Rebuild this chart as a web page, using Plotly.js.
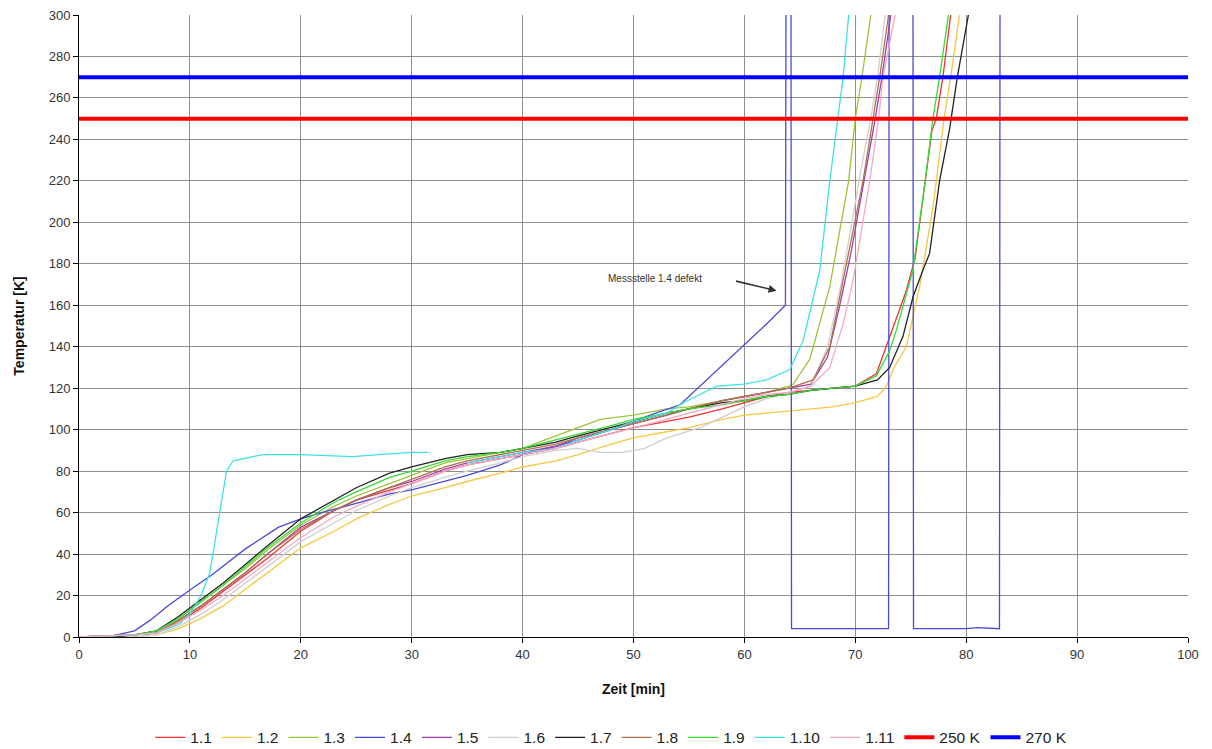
<!DOCTYPE html>
<html>
<head>
<meta charset="utf-8">
<script src="https://cdn.plot.ly/plotly-3.0.1.min.js"></script>
<style>
  html, body { margin: 0; padding: 0; background: #ffffff; }
  #chart { width: 1212px; height: 749px; }
</style>
</head>
<body>
<div id="chart"></div>
<script>
// ---- Data (time in min, temperature in K) ----
const t_1_1 = [0, 5, 7, 9, 11, 13, 15, 17, 20, 23, 25, 28, 30, 33, 35, 38, 40, 43, 45, 48, 50, 53, 55, 58, 60, 62, 64, 66, 68, 70, 71.9, 72.8, 73.7, 74.6, 75.4, 76.1, 76.9, 77.3, 77.9, 78.6];
const T_1_1 = [0, 1, 2, 7, 14, 22, 30, 38, 51, 61, 66, 71, 74, 80, 83, 86, 88, 91, 94, 98, 101, 104, 106, 110, 113, 116, 118, 119, 120, 121, 127, 140, 153, 167, 183, 212, 244, 250, 270, 300];

const t_1_2 = [0, 5, 7, 9, 11, 13, 15, 17, 20, 23, 25, 28, 30, 33, 35, 38, 40, 43, 45, 48, 50, 53, 55, 58, 60, 62, 64, 66, 68, 70, 72, 72.8, 73.5, 74.6, 75.8, 77.0, 77.9, 78.0, 78.6, 79.4];
const T_1_2 = [0, 0, 1, 4, 9, 15, 23, 31, 43, 51, 57, 64, 68, 72, 75, 79, 82, 85, 88, 93, 96, 99, 101, 105, 107, 108, 109, 110, 111, 113, 116, 121, 130, 140, 169, 207, 244, 250, 270, 300];

const t_1_3 = [0, 5, 7, 9, 11, 13, 15, 17, 20, 23, 25, 28, 30, 33, 35, 38, 40, 43, 45, 47, 50, 53, 55, 58, 60, 62, 64, 64.4, 65.9, 67.7, 68.6, 69.4, 70.0, 70.6, 71.4];
const T_1_3 = [0, 1, 3, 9, 17, 25, 33, 42, 54, 63, 68, 74, 78, 84, 86, 89, 91, 97, 101, 105, 107, 110, 111, 114, 116, 118, 121, 122, 134, 169, 196, 220, 250, 270, 300];

const t_1_4 = [0, 2.5, 3, 5, 6.4, 8, 10, 12, 15, 18, 20, 21.7, 25, 28, 30, 33, 35, 38, 40, 43, 45, 48, 50, 52, 54.2, 56, 58, 60, 62, 63.7, 63.75, 64.2, 64.25, 73.0, 73.05, 75.2, 75.25, 80, 81, 83.0, 83.05];
const T_1_4 = [0, 0, 0.5, 3, 8, 15, 22.7, 30, 42.5, 53, 57, 59.7, 64.5, 69, 71, 75, 78, 83, 88, 92, 95, 100, 104, 108, 112, 121, 131, 141, 151, 160, 310, 310, 4, 4, 310, 310, 4, 4, 4.5, 4, 310];

const t_1_5 = [0, 5, 7, 9, 11, 13, 15, 17, 20, 23, 25, 28, 30, 33, 35, 38, 40, 43, 45, 48, 50, 53, 55, 58, 60, 62, 64, 66, 67.5, 68.6, 69.6, 70.8, 71.8, 72.4, 73.2];
const T_1_5 = [0, 1, 2, 8, 15, 23, 31, 40, 53, 61, 66, 72, 75, 81, 84, 87, 89, 92, 96, 100, 103, 107, 110, 114, 116, 118, 120, 122, 135, 160, 185, 220, 250, 270, 300];

const t_1_6 = [0, 5, 7, 9, 11, 13, 15, 17, 20, 23, 25, 28, 30, 33, 35, 38, 40, 43, 45, 47, 49, 51, 53, 56, 58, 60, 62, 64, 66, 67.5, 68.7, 69.7, 70.5, 71.4, 72.0, 72.7];
const T_1_6 = [0, 0, 1, 5, 11, 18, 26, 34, 46, 55, 61, 68, 72, 77, 80, 84, 87, 90, 91, 89, 89, 91, 96, 101, 106, 111, 115, 118, 121, 140, 170, 200, 225, 250, 270, 300];

const t_1_7 = [0, 3, 5, 7, 9, 11, 13, 15, 17, 20, 23, 25, 28, 30, 33, 35, 38, 40, 43, 45, 48, 50, 53, 55, 58, 60, 62, 64, 66, 68, 70, 72, 73.1, 74.3, 75.2, 76.1, 76.7, 77.6, 78.5, 79.2, 80.2];
const T_1_7 = [0, 0, 1, 3, 10, 18, 26, 35, 44, 57, 66, 72, 79, 82, 86, 88, 89, 91, 94, 97, 101, 104, 108, 110, 113, 114, 116, 117, 119, 120, 121, 124, 130, 145, 164, 177, 185, 220, 245, 270, 300];

const t_1_8 = [0, 5, 7, 9, 11, 13, 15, 17, 20, 23, 25, 28, 30, 33, 35, 38, 40, 43, 45, 48, 50, 53, 55, 58, 60, 62, 64, 66.2, 67.7, 68.9, 69.8, 70.7, 71.6, 72.2, 73.0];
const T_1_8 = [0, 1, 2, 8, 15, 23, 31, 40, 52, 61, 66, 72, 76, 82, 85, 88, 90, 93, 96, 100, 103, 107, 110, 114, 116, 118, 120, 124, 140, 172, 196, 220, 250, 270, 300];

const t_1_9 = [0, 5, 7, 9, 11, 13, 15, 17, 20, 23, 25, 28, 30, 33, 35, 38, 40, 43, 45, 48, 50, 53, 55, 58, 60, 62, 64, 66, 68, 70, 71.9, 73.1, 73.7, 75.2, 76.3, 77.0, 77.6, 78.4];
const T_1_9 = [0, 1, 3, 9, 17, 25, 34, 43, 55, 65, 70, 77, 80, 85, 87, 89, 91, 95, 98, 102, 105, 108, 110, 112, 114, 116, 117, 119, 120, 121, 126, 138, 148, 177, 220, 250, 270, 300];

const t_1_10 = [0, 5, 7, 9, 10, 11, 11.8, 12.7, 13.3, 13.9, 16.6, 20, 24.7, 27, 30, 31.5, null, 35, 38, 40, 43, 45, 48, 50, 53, 54.5, 57.5, 60, 62, 64.1, 65.3, 65.9, 66.8, 67.7, 68.4, 68.9, 69.4];
const T_1_10 = [0, 1, 2, 6, 11, 20, 31, 60, 80, 85, 88, 88, 87, 88, 89, 89, null, 84, 87, 89, 91, 95, 100, 104, 108, 113, 121, 122, 124, 129, 143, 156, 177, 220, 250, 270, 300];

const t_1_11 = [0, 5, 7, 9, 11, 13, 15, 17, 20, 23, 25, 28, 30, 33, 35, 38, 40, 43, 45, 48, 50, 53, 55, 58, 60, 62, 64, 66, 67.7, 68.9, 69.8, 71.3, 72.1, 72.5, 73.6];
const T_1_11 = [0, 1, 2, 7, 13, 20, 28, 36, 48, 58, 63, 70, 74, 80, 83, 86, 88, 91, 94, 98, 101, 105, 108, 112, 115, 117, 118, 121, 130, 151, 172, 220, 250, 270, 300];

const limitX = [0, 100];
const limit250 = [250, 250];
const limit270 = [270, 270];

const seriesNames = ['1.1', '1.2', '1.3', '1.4', '1.5', '1.6', '1.7', '1.8', '1.9', '1.10', '1.11'];
const seriesT = [t_1_1, t_1_2, t_1_3, t_1_4, t_1_5, t_1_6, t_1_7, t_1_8, t_1_9, t_1_10, t_1_11];
const seriesK = [T_1_1, T_1_2, T_1_3, T_1_4, T_1_5, T_1_6, T_1_7, T_1_8, T_1_9, T_1_10, T_1_11];
const seriesColors = ['#ee3333', '#f7c843', '#9cc53a', '#4a4ad8', '#a040a8', '#cfcfcf', '#222222', '#b0704a', '#33dd33', '#3fe3e3', '#f4a8c8'];

const traces = seriesNames.map((n, i) => ({
  type: 'scatter', mode: 'lines', name: n,
  x: seriesT[i], y: seriesK[i],
  line: { color: seriesColors[i], width: 1.3 },
  connectgaps: false, hoverinfo: 'skip'
}));
traces.push({ type: 'scatter', mode: 'lines', name: '250 K', x: limitX, y: limit250,
  line: { color: '#ff0000', width: 4 }, hoverinfo: 'skip' });
traces.push({ type: 'scatter', mode: 'lines', name: '270 K', x: limitX, y: limit270,
  line: { color: '#0000ff', width: 4 }, hoverinfo: 'skip' });

const layout = {
  width: 1212, height: 749,
  margin: { l: 79, r: 24, t: 15, b: 112, autoexpand: false },
  paper_bgcolor: '#ffffff', plot_bgcolor: '#ffffff',
  font: { family: 'Liberation Sans, Arial, sans-serif', size: 13, color: '#333333' },
  showlegend: true,
  legend: { orientation: 'h', x: 0.48, xanchor: 'center', y: -0.162, yanchor: 'middle',
    font: { size: 15.5, color: '#222222' }, itemwidth: 30, tracegroupgap: 0 },
  xaxis: {
    range: [0, 100], dtick: 10, tick0: 0,
    showgrid: true, gridcolor: '#8f8f8f', gridwidth: 1,
    showline: true, linecolor: '#000000', linewidth: 1,
    ticks: 'outside', ticklen: 5, tickcolor: '#000000',
    zeroline: false,
    tickfont: { size: 13, color: '#333333' },
    title: { text: '<b>Zeit [min]</b>', font: { size: 14, color: '#111111' }, standoff: 23 }
  },
  yaxis: {
    range: [0, 300], dtick: 20, tick0: 0,
    showgrid: true, gridcolor: '#8f8f8f', gridwidth: 1,
    showline: true, linecolor: '#000000', linewidth: 1,
    ticks: 'outside', ticklen: 5, tickcolor: '#000000',
    zeroline: false,
    tickfont: { size: 13, color: '#333333' },
    title: { text: '<b>Temperatur [K]</b>', font: { size: 14, color: '#111111' }, standoff: 20 }
  },
  annotations: [
    { x: 62.9, y: 167, xref: 'x', yref: 'y', text: '', showarrow: true,
      ax: -42, ay: -10, arrowhead: 2, arrowsize: 1, arrowwidth: 1.6, arrowcolor: '#333333' },
    { x: 51.9, y: 173, xref: 'x', yref: 'y', text: 'Messstelle 1.4 defekt', showarrow: false,
      font: { size: 10, color: '#333333' } }
  ]
};

Plotly.newPlot('chart', traces, layout, { displayModeBar: false, staticPlot: true });
</script>
</body>
</html>
